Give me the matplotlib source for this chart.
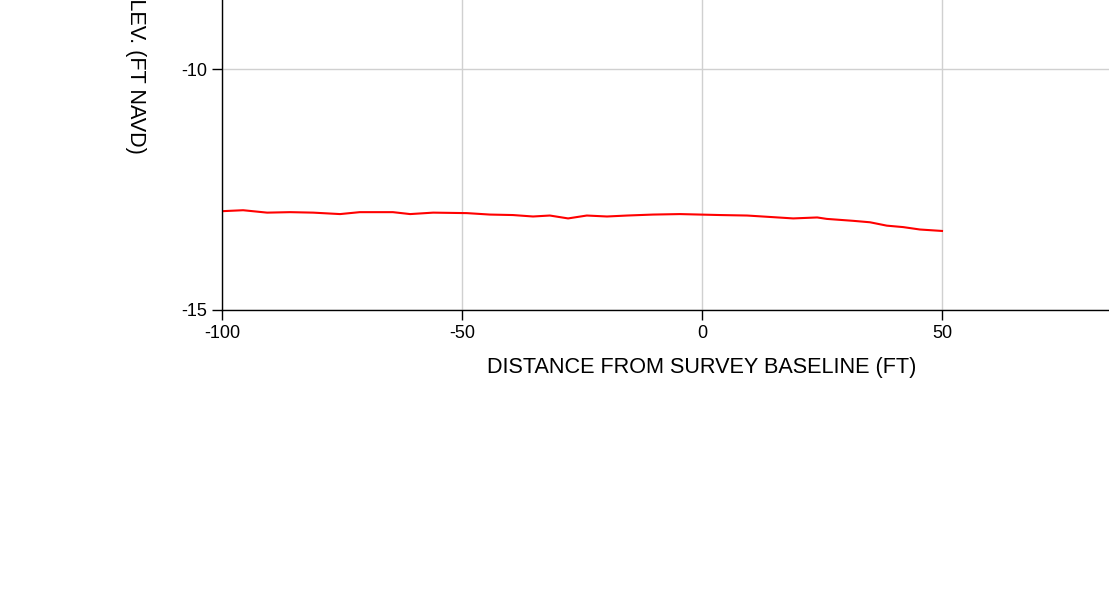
import numpy as np
import matplotlib
matplotlib.use('Agg')
import matplotlib.pyplot as plt

plt.rcParams['font.family'] = ['Liberation Sans', 'DejaVu Sans']

# profile (distance ft, elevation ft NAVD)
dist = [-100, -95.6, -90.6, -85.8, -81.0, -75.4, -71.3, -64.4, -60.8, -56.0,
        -49.0, -44.2, -39.4, -35.2, -31.7, -27.9, -24.0, -19.8, -15.6, -10.2,
        -4.6, -0.4, 3.75, 9.4, 14.2, 19.0, 24.0, 26.0, 31.5, 35.0,
        38.5, 41.9, 45.4, 50.0]
elev = [-12.95, -12.93, -12.98, -12.97, -12.98, -13.01, -12.97, -12.97, -13.01, -12.98,
        -12.99, -13.02, -13.03, -13.06, -13.04, -13.10, -13.04, -13.06, -13.04, -13.02,
        -13.01, -13.02, -13.03, -13.04, -13.07, -13.10, -13.08, -13.11, -13.15, -13.18,
        -13.25, -13.28, -13.33, -13.36]

xticks = [-100, -50, 0, 50, 100]
yticks = [-15, -10, -5]

fig = plt.figure(figsize=(11.09, 6.01), dpi=100)
ax = fig.add_axes([222 / 1109, 1 - 310 / 601, 960 / 1109, 482 / 601])

ax.plot(dist, elev, color='red', lw=1.5)

ax.set_xlim(-100, 100)
ax.set_ylim(-15, -5)
ax.set_xticks(xticks)
ax.set_yticks(yticks)
ax.set_xticklabels([str(t) for t in xticks])
ax.set_yticklabels([str(t) for t in yticks])
ax.grid(True, color='#d0d0d0', lw=1)
ax.set_axisbelow(True)
ax.tick_params(direction='out', length=7, width=1, pad=3.5, labelsize=13)

for s in ['top', 'right']:
    ax.spines[s].set_visible(False)
for s in ['left', 'bottom']:
    ax.spines[s].set_linewidth(1)

ax.set_xlabel('DISTANCE FROM SURVEY BASELINE (FT)', fontsize=15.6)
ax.xaxis.set_label_coords(0.5, -(368 - 310) / 482)
ax.xaxis.label.set_va('center')
ax.set_ylabel('ELEV. (FT NAVD)', fontsize=15.6, rotation=270, va='center', ha='center')
ax.yaxis.set_label_coords((135 - 222) / 960, 0.5)

fig.savefig('out.png', dpi=100)
